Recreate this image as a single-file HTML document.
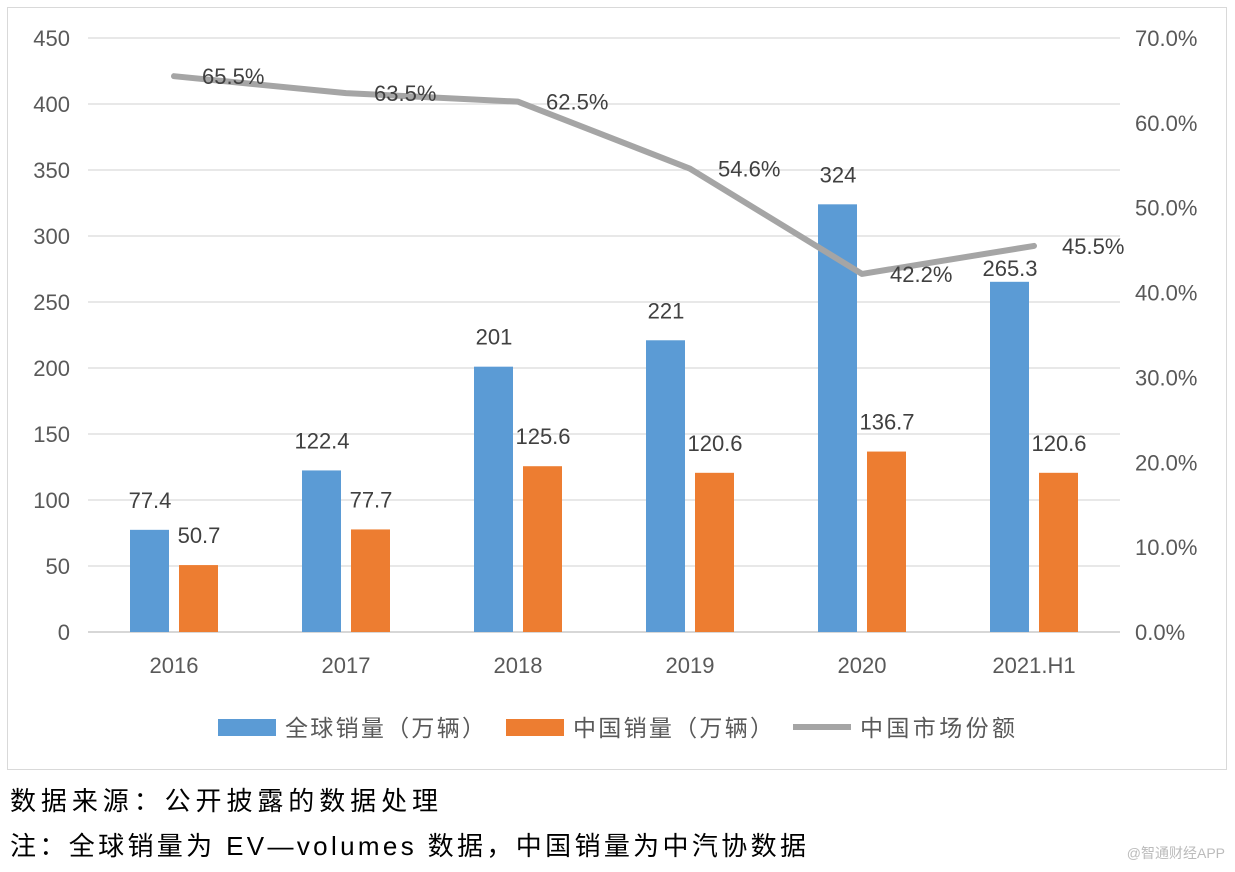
<!DOCTYPE html>
<html><head><meta charset="utf-8"><style>
body{margin:0;background:#fff;width:1235px;height:872px;overflow:hidden;font-family:"Liberation Sans","Noto Sans CJK SC",sans-serif}
</style></head><body>
<svg width="1235" height="872" style="position:absolute;left:0;top:0">
<rect x="7.5" y="7.5" width="1219" height="762" fill="#fff" stroke="#d9d9d9"/>
<g id="grid"></g><g id="bars"></g><g id="line"></g><g id="labels"></g>
<g font-size="23" fill="#595959">
<rect x="218" y="719" width="58" height="17" fill="#5b9bd5"/>
<text x="285" y="736" textLength="200">全球销量（万辆）</text>
<rect x="506" y="719" width="58" height="17" fill="#ed7d31"/>
<text x="573" y="736" textLength="200">中国销量（万辆）</text>
<line x1="793" y1="727" x2="851" y2="727" stroke="#a5a5a5" stroke-width="6"/>
<text x="860" y="736" textLength="155">中国市场份额</text>
</g>
<text x="10" y="810" font-size="26" fill="#000" textLength="428">数据来源：公开披露的数据处理</text>
<text x="10" y="855" font-size="26" fill="#000" textLength="796">注：全球销量为 EV—volumes 数据，中国销量为中汽协数据</text>
<text x="1225" y="858" font-size="14" fill="#bbb" text-anchor="end">@智通财经APP</text>
</svg>
<script>
const categories=["2016","2017","2018","2019","2020","2021.H1"];
const globalSales=[77.4,122.4,201,221,324,265.3];
const chinaSales=[50.7,77.7,125.6,120.6,136.7,120.6];
const chinaShare=[65.5,63.5,62.5,54.6,42.2,45.5];
const leftTicks=[0,50,100,150,200,250,300,350,400,450];
const rightTicks=[0,10,20,30,40,50,60,70];
const NS="http://www.w3.org/2000/svg";
const x0=88,x1=1120,yb=632,yt=38;
const step=(x1-x0)/categories.length;
const cx=i=>x0+step*(i+0.5);
const yL=v=>yb-(v/450)*(yb-yt);
const yR=v=>yb-(v/70)*(yb-yt);
function mk(tag,attrs,parent,txt){const e=document.createElementNS(NS,tag);for(const k in attrs)e.setAttribute(k,attrs[k]);if(txt!==undefined)e.textContent=txt;document.getElementById(parent).appendChild(e);return e;}
leftTicks.forEach(t=>{
 const l=mk('line',{x1:x0,x2:x1,y1:yL(t),y2:yL(t),stroke:t===0?'#bfbfbf':'#d9d9d9','stroke-width':1.3},'grid');
 
 
 const e=mk('text',{x:70,y:yL(t)+8,'font-size':22,fill:'#595959','text-anchor':'end'},'grid',String(t));
 
 
});
rightTicks.forEach(t=>{
 const e=mk('text',{x:1135,y:yR(t)+8,'font-size':22,fill:'#595959'},'grid',t.toFixed(1)+'%');
 
 
});
categories.forEach((c,i)=>{
 const e=mk('text',{x:cx(i),y:673,'font-size':22,fill:'#595959','text-anchor':'middle'},'grid',c);
 
 
 const b=mk('rect',{x:cx(i)-44,y:yL(globalSales[i]),width:39,height:yb-yL(globalSales[i]),fill:'#5b9bd5'},'bars');
 
 
 const o=mk('rect',{x:cx(i)+5,y:yL(chinaSales[i]),width:39,height:yb-yL(chinaSales[i]),fill:'#ed7d31'},'bars');
 
 
 const off=(i===categories.length-1)?-6:-22;
 const lg=mk('text',{x:cx(i)-24,y:yL(globalSales[i])+off,'font-size':22,fill:'#404040','text-anchor':'middle'},'labels',String(globalSales[i]));
 
 
 const lc=mk('text',{x:cx(i)+25,y:yL(chinaSales[i])-22,'font-size':22,fill:'#404040','text-anchor':'middle'},'labels',String(chinaSales[i]));
 
 
 const ls=mk('text',{x:cx(i)+28,y:yR(chinaShare[i])+8,'font-size':22,fill:'#404040'},'labels',chinaShare[i].toFixed(1)+'%');
 
 
});
const p=mk('polyline',{points:chinaShare.map((v,i)=>cx(i)+','+yR(v)).join(' '),fill:'none',stroke:'#a5a5a5','stroke-width':6,'stroke-linejoin':'round','stroke-linecap':'round'},'line');


</script>
</body></html>
